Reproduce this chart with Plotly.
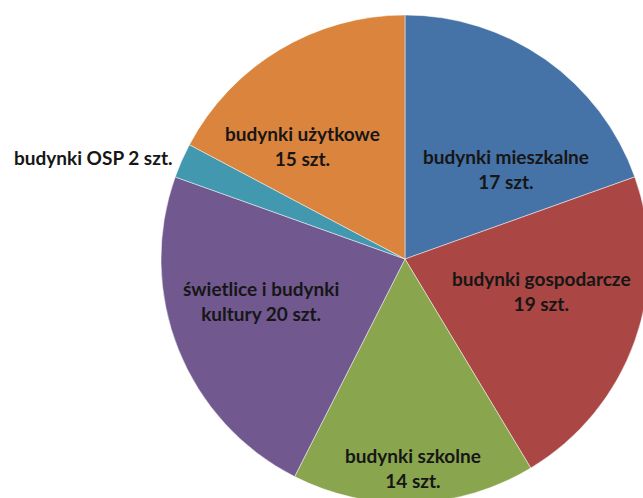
import plotly.graph_objects as go

# dane
kategorie = [
    "budynki mieszkalne",
    "budynki gospodarcze",
    "budynki szkolne",
    "świetlice i budynki kultury",
    "budynki OSP",
    "budynki użytkowe",
]
liczba = [17, 19, 14, 20, 2, 15]
etykiety = [
    "budynki mieszkalne<br>17 szt.",
    "budynki gospodarcze<br>19 szt.",
    "budynki szkolne<br>14 szt.",
    "świetlice i budynki<br>kultury 20 szt.",
    "budynki OSP 2 szt.",
    "budynki użytkowe<br>15 szt.",
]
kolory = ["#4572A7", "#AA4643", "#89A54E", "#71588F", "#4198AF", "#DB843D"]

# układ
W, H = 650, 504
cx, cy, R = 405, 259, 244
# położenie etykiet (px od lewego górnego rogu), jak w oryginale z Excela
poz_etykiet = [(506, 169), (541, 291), (413, 468), (261, 301), (93, 157), (302, 146)]

fig = go.Figure()
fig.add_trace(go.Pie(
    labels=kategorie,
    values=liczba,
    textinfo="none",
    sort=False,
    direction="clockwise",
    rotation=0,
    marker=dict(colors=kolory, line=dict(color="rgba(255,255,255,0.6)", width=0.8)),
    domain=dict(x=[(cx - R) / W, (cx + R) / W], y=[1 - (cy + R) / H, 1 - (cy - R) / H]),
    hoverinfo="label+value",
    showlegend=False,
))

for tekst, (px, py) in zip(etykiety, poz_etykiet):
    fig.add_annotation(
        text=tekst, x=px / W, y=1 - py / H, xref="paper", yref="paper",
        xanchor="center", yanchor="middle", showarrow=False, align="center",
        font=dict(family="Lato", size=19, color="#161616", weight="bold"),
    )

fig.update_layout(
    width=W, height=H,
    margin=dict(l=0, r=0, t=0, b=0),
    paper_bgcolor="white",
    plot_bgcolor="white",
)

fig.write_html(
    "out.html",
    config={"displayModeBar": False},
    post_script="document.body.style.margin='0';document.body.style.overflow='hidden';"
                "document.documentElement.style.overflow='hidden';",
)
